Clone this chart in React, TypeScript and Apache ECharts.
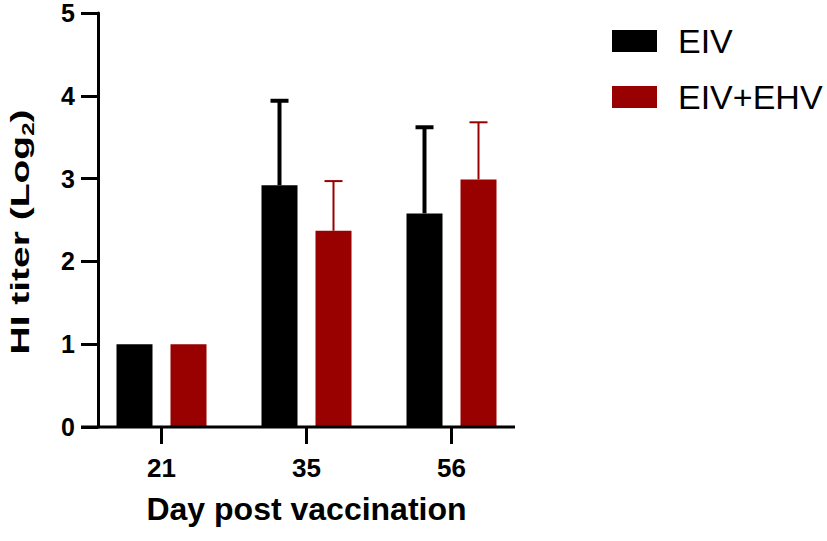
import React, { useEffect, useRef } from "react";
import * as echarts from "echarts";

const categories = ["21", "35", "56"];
const eivMean = [1, 2.92, 2.58];
const eivUpper = [null, 3.94, 3.62];
const comboMean = [1, 2.37, 2.99];
const comboUpper = [null, 2.97, 3.68];
const yTicks = [0, 1, 2, 3, 4, 5];
const legendNames = ["EIV", "EIV+EHV"];
const xTitle = "Day post vaccination";
const yTitle = "HI titer (Log{sub|2})";

const FONT = "'Liberation Sans', Arial, Helvetica, sans-serif";
const BLACK = "#000000";
const RED = "#990000";

function errorSeries(name: string, means: (number | null)[], uppers: (number | null)[], offset: number, color: string, lw: number) {
  const data = means.map((m, i) => [i, m, uppers[i]]).filter((d) => d[2] != null);
  return {
    type: "custom",
    name: name + "_err",
    silent: true,
    z: 1,
    data,
    renderItem: (params: any, api: any) => {
      const top = api.coord([api.value(0), api.value(1)]);
      const hi = api.coord([api.value(0), api.value(2)]);
      const x = top[0] + offset;
      const half = 9;
      return {
        type: "group",
        children: [
          { type: "line", shape: { x1: x, y1: top[1], x2: x, y2: hi[1] }, style: { stroke: color, lineWidth: lw } },
          { type: "line", shape: { x1: x - half, y1: hi[1], x2: x + half, y2: hi[1] }, style: { stroke: color, lineWidth: lw } },
        ],
      };
    },
  };
}

// x axis line and category tick marks, drawn from the axis' own coordinates
const xAxisSeries = {
  type: "custom",
  name: "xaxis",
  silent: true,
  clip: false,
  z: 3,
  data: categories.map((_, i) => [i, yTicks[0]]),
  renderItem: (params: any, api: any) => {
    const p = api.coord([api.value(0), api.value(1)]);
    const cs = params.coordSys;
    const children: any[] = [
      { type: "line", shape: { x1: p[0], y1: p[1], x2: p[0], y2: p[1] + 17 }, style: { stroke: "#000", lineWidth: 3 } },
    ];
    if (params.dataIndex === 0) {
      children.push({
        type: "line",
        shape: { x1: cs.x - 8, y1: p[1], x2: cs.x + cs.width - 9, y2: p[1] },
        style: { stroke: "#000", lineWidth: 3 },
      });
    }
    return { type: "group", children };
  },
};

export default function App() {
  const ref = useRef<HTMLDivElement>(null);
  useEffect(() => {
    const chart = echarts.init(ref.current!, null, { renderer: "svg" });
    chart.setOption({
      animation: false,
      textStyle: { fontFamily: FONT },
      grid: { left: 89, right: 303, top: 13, bottom: 114, containLabel: false, outerBoundsMode: "none" },
      legend: {
        orient: "vertical",
        left: 607,
        top: 17,
        icon: "rect",
        itemWidth: 45,
        itemHeight: 22,
        itemGap: 18,
        data: legendNames,
        textStyle: { fontSize: 34, fontFamily: FONT, color: "#000", lineHeight: 38, padding: [0, 0, 0, 16] },
      },
      graphic: [
        {
          type: "text",
          x: 20,
          y: 232,
          rotation: Math.PI / 2,
          scaleX: 1.5,
          scaleY: 1,
          style: {
            text: yTitle,
            font: "bold 26px " + FONT,
            fill: "#000",
            lineHeight: 34,
            align: "center",
            verticalAlign: "middle",
            rich: {
              sub: { fontSize: 16, fontWeight: "bold", fill: "#000", fontFamily: FONT, lineHeight: 16, verticalAlign: "bottom" },
            },
          },
        },
      ],
      xAxis: {
        type: "category",
        data: categories,
        name: xTitle,
        nameLocation: "middle",
        nameGap: 66,
        nameTextStyle: { fontSize: 32, fontWeight: "bold", color: "#000", fontFamily: FONT },
        axisLine: { show: false, onZero: false },
        axisTick: { show: false },
        axisLabel: { fontSize: 26, fontWeight: "bold", color: "#000", margin: 28, fontFamily: FONT },
      },
      yAxis: {
        type: "value",
        min: yTicks[0],
        max: yTicks[yTicks.length - 1],
        interval: 1,
        offset: -9,
        splitLine: { show: false },
        axisLine: { show: true, lineStyle: { color: "#000", width: 3 } },
        axisTick: { show: true, inside: false, length: 17, lineStyle: { color: "#000", width: 3 } },
        axisLabel: { fontSize: 25, fontWeight: "bold", color: "#000", margin: 23, fontFamily: FONT },
      },
      series: [
        {
          type: "bar",
          name: legendNames[0],
          data: eivMean,
          barWidth: 36,
          barGap: "50%",
          itemStyle: { color: BLACK },
          z: 2,
        },
        {
          type: "bar",
          name: legendNames[1],
          data: comboMean,
          barWidth: 36,
          barGap: "50%",
          itemStyle: { color: RED },
          z: 2,
        },
        errorSeries(legendNames[0], eivMean, eivUpper, -27, BLACK, 4),
        errorSeries(legendNames[1], comboMean, comboUpper, 27, RED, 2),
        xAxisSeries,
      ],
    });
    return () => chart.dispose();
  }, []);
  return <div ref={ref} style={{ width: 827, height: 541, position: "absolute", left: 0, top: 0 }} />;
}
